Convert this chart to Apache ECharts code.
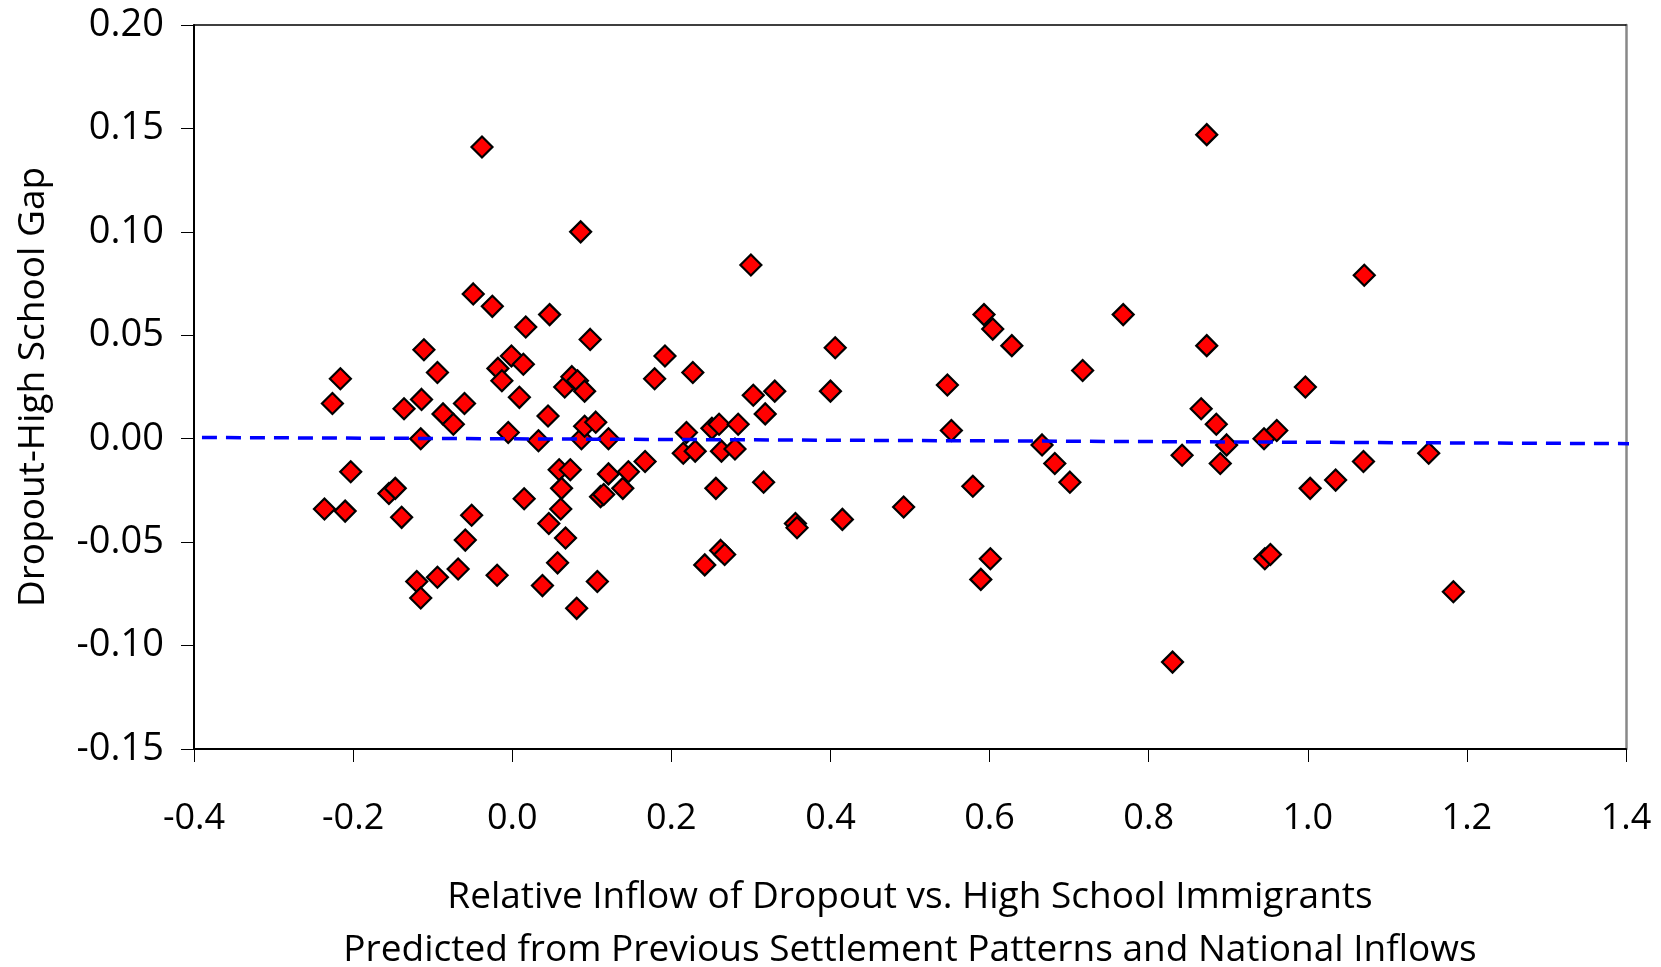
<!DOCTYPE html>
<html>
	<head>
		<meta charset="UTF-8">
		<title>Dropout-High School Gap</title>
		<script src="https://cdn.jsdelivr.net/npm/echarts@6/dist/echarts.min.js"></script>
		<style>
			html, body { margin: 0; padding: 0; background: #fff; }
		</style>
	</head>
	<body>
		<div id="chart" style="width: 1661px;height:967px;"></div>
	</body>
	<script type="text/javascript">
		// relative inflow (x) and wage gap (y)
		var inflow = [
			-0.236, -0.226, -0.216, -0.210, -0.203, -0.155, -0.147, -0.139, -0.136, -0.120,
			-0.115, -0.114, -0.115, -0.111, -0.094, -0.094, -0.087, -0.074, -0.068, -0.060,
			-0.059, -0.051, -0.049, -0.038, -0.025, -0.019, -0.018, -0.013, -0.005, -0.001,
			0.009, 0.014, 0.015, 0.017, 0.033, 0.038, 0.045, 0.046, 0.047, 0.057,
			0.059, 0.061, 0.062, 0.066, 0.067, 0.073, 0.075, 0.081, 0.082, 0.086,
			0.087, 0.091, 0.091, 0.098, 0.105, 0.107, 0.111, 0.115, 0.121, 0.121,
			0.139, 0.146, 0.167, 0.179, 0.192, 0.215, 0.219, 0.227, 0.230, 0.242,
			0.251, 0.256, 0.260, 0.262, 0.263, 0.267, 0.280, 0.284, 0.300, 0.303,
			0.316, 0.318, 0.330, 0.356, 0.358, 0.400, 0.406, 0.415, 0.492, 0.547,
			0.552, 0.579, 0.589, 0.593, 0.601, 0.604, 0.628, 0.666, 0.682, 0.701,
			0.717, 0.768, 0.830, 0.842, 0.866, 0.873, 0.873, 0.885, 0.890, 0.898,
			0.945, 0.946, 0.953, 0.961, 0.997, 1.003, 1.035, 1.070, 1.071, 1.152,
			1.183
		];
		var gap = [
			-0.034, 0.017, 0.029, -0.035, -0.016, -0.0265, -0.024, -0.038, 0.0145, -0.069,
			-0.077, 0.019, 0.000, 0.043, 0.032, -0.067, 0.012, 0.007, -0.063, 0.017,
			-0.049, -0.037, 0.070, 0.141, 0.064, -0.066, 0.034, 0.028, 0.003, 0.040,
			0.020, 0.036, -0.029, 0.054, -0.001, -0.071, 0.011, -0.041, 0.060, -0.060,
			-0.015, -0.034, -0.024, 0.025, -0.048, -0.015, 0.030, -0.082, 0.028, 0.100,
			0.000, 0.023, 0.006, 0.048, 0.008, -0.069, -0.028, -0.027, -0.017, 0.000,
			-0.024, -0.016, -0.011, 0.029, 0.040, -0.007, 0.003, 0.032, -0.006, -0.061,
			0.005, -0.024, 0.007, -0.054, -0.006, -0.056, -0.005, 0.007, 0.084, 0.021,
			-0.021, 0.012, 0.023, -0.041, -0.043, 0.023, 0.044, -0.039, -0.033, 0.026,
			0.004, -0.023, -0.068, 0.060, -0.058, 0.053, 0.045, -0.003, -0.012, -0.021,
			0.033, 0.060, -0.108, -0.008, 0.0145, 0.045, 0.147, 0.007, -0.012, -0.003,
			0.000, -0.058, -0.056, 0.004, 0.025, -0.024, -0.020, -0.011, 0.079, -0.007,
			-0.074
		];
		// fitted line end points
		var fitX = [-0.39, 1.41];
		var fitY = [0.0006, -0.0024];

		var xTitle = 'Relative Inflow of Dropout vs. High School Immigrants\nPredicted from Previous Settlement Patterns and National Inflows';
		var yTitle = 'Dropout-High School Gap';

		var points = [];
		for (var i = 0; i < inflow.length; i++) {
			points.push([inflow[i], gap[i]]);
		}
		var fit = [];
		for (var j = 0; j < fitX.length; j++) {
			fit.push([fitX[j], fitY[j]]);
		}

		var font = '"Open Sans", "Noto Sans", sans-serif';
		var myChart = echarts.init(document.getElementById('chart'));
		myChart.setOption({
			animation: false,
			backgroundColor: '#fff',
			grid: {
				left: 194,
				right: 35,
				top: 25,
				bottom: 218,
				containLabel: false,
				outerBoundsMode: 'none'
			},
			xAxis: [{
				type: 'value',
				min: -0.4,
				max: 1.4,
				interval: 0.2,
				name: xTitle,
				nameLocation: 'middle',
				nameGap: 122,
				nameTextStyle: { fontFamily: font, fontSize: 37, color: '#000', lineHeight: 53 },
				axisLine: { onZero: false, lineStyle: { color: '#000', width: 2 } },
				axisTick: { show: true, inside: false, length: 13, lineStyle: { color: '#000', width: 1 } },
				axisLabel: {
					margin: 52,
					fontFamily: font,
					fontSize: 36,
					color: '#000',
					formatter: function (v) { return v.toFixed(1); }
				},
				splitLine: { show: false }
			}, {
				type: 'value',
				position: 'top',
				min: -0.4,
				max: 1.4,
				axisLine: { onZero: false, lineStyle: { color: '#000', width: 1.5 } },
				axisTick: { show: false },
				axisLabel: { show: false },
				splitLine: { show: false }
			}],
			yAxis: [{
				type: 'value',
				min: -0.15,
				max: 0.20,
				interval: 0.05,
				name: yTitle,
				nameLocation: 'middle',
				nameGap: 142,
				nameTextStyle: { fontFamily: font, fontSize: 37, color: '#000' },
				axisLine: { onZero: false, lineStyle: { color: '#000', width: 2 } },
				axisTick: { show: true, inside: false, length: 13, lineStyle: { color: '#000', width: 1 } },
				axisLabel: {
					margin: 30,
					fontFamily: font,
					fontSize: 38,
					color: '#000',
					formatter: function (v) { return v.toFixed(2); }
				},
				splitLine: { show: false }
			}, {
				type: 'value',
				position: 'right',
				min: -0.15,
				max: 0.20,
				axisLine: { onZero: false, lineStyle: { color: '#888', width: 2.5 } },
				axisTick: { show: false },
				axisLabel: { show: false },
				splitLine: { show: false }
			}],
			series: [{
				type: 'scatter',
				xAxisIndex: 0,
				yAxisIndex: 0,
				symbol: 'diamond',
				symbolSize: 21,
				itemStyle: { color: '#FF0000', borderColor: '#000', borderWidth: 2.2, opacity: 1 },
				data: points,
				z: 2
			}, {
				type: 'line',
				xAxisIndex: 0,
				yAxisIndex: 0,
				clip: false,
				symbol: 'none',
				lineStyle: { color: '#0000FF', width: 3.5, type: [15, 9] },
				data: fit,
				z: 3
			}]
		});
	</script>
</html>
